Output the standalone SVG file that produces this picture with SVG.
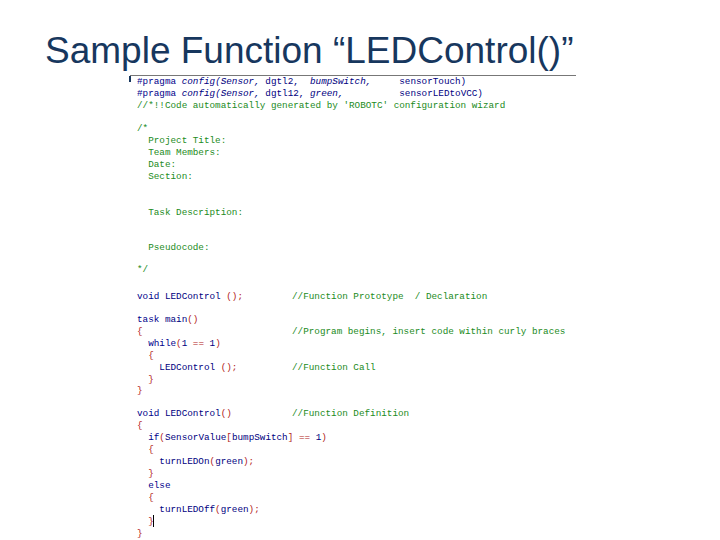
<svg xmlns="http://www.w3.org/2000/svg" width="720" height="540" viewBox="0 0 720 540">
<style>
.t{font-family:"Liberation Sans",Arial,sans-serif;font-size:37px;fill:#17375e}
.c{font-family:"Liberation Mono","Courier New",monospace;font-size:9.3px;fill:#000080;white-space:pre}
.g{fill:#228b22}
.r{fill:#b22222}
.k{fill:#00008b}
.i{font-style:italic}
</style>
<rect width="720" height="540" fill="#fff"/>
<text class="t" x="45" y="63">Sample Function “LEDControl()”</text>
<line x1="130" y1="75.500" x2="576" y2="75.500" stroke="#777" stroke-width="1"/>
<line x1="130" y1="76" x2="130" y2="82" stroke="#17375e" stroke-width="2"/>
<g id="code">
<text class="c" x="137" y="84"><tspan class="k">#pragma</tspan> <tspan class="i">config(Sensor,</tspan> dgtl2,  <tspan class="i">bumpSwitch,</tspan>     sensorTouch)</text>
<text class="c" x="137" y="96"><tspan class="k">#pragma</tspan> <tspan class="i">config(Sensor,</tspan> dgtl12, <tspan class="i">green,</tspan>          sensorLEDtoVCC)</text>
<text class="c g" x="137" y="108">//*!!Code automatically generated by 'ROBOTC' configuration wizard</text>
<text class="c g" x="137" y="131">/*</text>
<text class="c g" x="137" y="143">  Project Title:</text>
<text class="c g" x="137" y="155">  Team Members:</text>
<text class="c g" x="137" y="167">  Date:</text>
<text class="c g" x="137" y="179">  Section:</text>
<text class="c g" x="137" y="215">  Task Description:</text>
<text class="c g" x="137" y="250">  Pseudocode:</text>
<text class="c g" x="137" y="272">*/</text>
<text class="c" x="137" y="299"><tspan class="k">void</tspan> LEDControl <tspan class="r">();</tspan></text>
<text class="c g" x="292" y="299">//Function Prototype  / Declaration</text>
<text class="c" x="137" y="322"><tspan class="k">task</tspan> main<tspan class="r">()</tspan></text>
<text class="c r" x="137" y="334">{</text>
<text class="c g" x="292" y="334">//Program begins, insert code within curly braces</text>
<text class="c" x="137" y="346">  <tspan class="k">while</tspan><tspan class="r">(</tspan>1 <tspan class="r">==</tspan> 1<tspan class="r">)</tspan></text>
<text class="c r" x="137" y="358">  {</text>
<text class="c" x="137" y="370">    LEDControl <tspan class="r">();</tspan></text>
<text class="c g" x="292" y="370">//Function Call</text>
<text class="c r" x="137" y="382">  }</text>
<text class="c r" x="137" y="393">}</text>
<text class="c" x="137" y="416"><tspan class="k">void</tspan> LEDControl<tspan class="r">()</tspan></text>
<text class="c g" x="292" y="416">//Function Definition</text>
<text class="c r" x="137" y="428">{</text>
<text class="c" x="137" y="440">  <tspan class="k">if</tspan><tspan class="r">(</tspan>SensorValue<tspan class="r">[</tspan>bumpSwitch<tspan class="r">]</tspan> <tspan class="r">==</tspan> 1<tspan class="r">)</tspan></text>
<text class="c r" x="137" y="452">  {</text>
<text class="c" x="137" y="464">    turnLEDOn<tspan class="r">(</tspan>green<tspan class="r">);</tspan></text>
<text class="c r" x="137" y="476">  }</text>
<text class="c k" x="137" y="488">  else</text>
<text class="c r" x="137" y="500">  {</text>
<text class="c" x="137" y="512">    turnLEDOff<tspan class="r">(</tspan>green<tspan class="r">);</tspan></text>
<text class="c r" x="137" y="524">  }</text>
<line x1="153.500" y1="515" x2="153.500" y2="527" stroke="#000" stroke-width="1"/>
<text class="c r" x="137" y="536">}</text>
</g>
</svg>
